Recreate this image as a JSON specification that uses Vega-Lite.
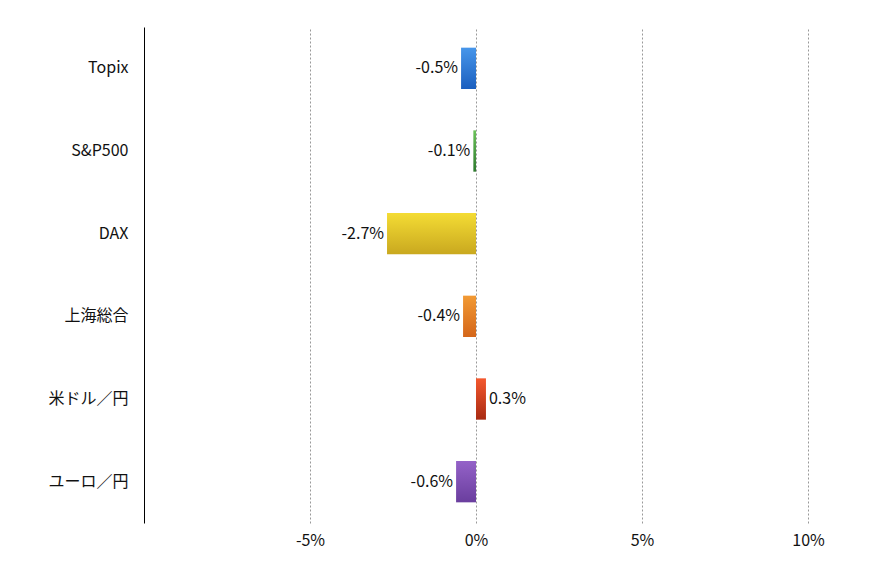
{
  "$schema": "https://vega.github.io/schema/vega-lite/v6.json",
  "width": 664,
  "height": 496,
  "autosize": {"type": "none"},
  "padding": {"left": 144, "top": 27, "right": 62, "bottom": 53},
  "background": "white",
  "config": {
    "font": "Noto Sans CJK JP",
    "view": {"stroke": null}
  },
  "data": {
    "values": [
      {"name": "Topix", "value": -0.45, "label": "-0.5%"},
      {"name": "S&P500", "value": -0.08, "label": "-0.1%"},
      {"name": "DAX", "value": -2.68, "label": "-2.7%"},
      {"name": "上海総合", "value": -0.39, "label": "-0.4%"},
      {"name": "米ドル／円", "value": 0.3, "label": "0.3%"},
      {"name": "ユーロ／円", "value": -0.6, "label": "-0.6%"}
    ]
  },
  "encoding": {
    "y": {
      "field": "name", "type": "nominal", "sort": null,
      "scale": {"paddingInner": 0.5, "paddingOuter": 0.25},
      "axis": {
        "title": null, "ticks": false, "domainColor": "#000000", "domainWidth": 1,
        "labelFontSize": 16, "labelColor": "#111111", "labelPadding": 16,
        "labelFont": "Noto Sans CJK JP"
      }
    },
    "x": {
      "field": "value", "type": "quantitative",
      "scale": {"domain": [-10, 10], "nice": false, "zero": false},
      "axis": {
        "title": null, "values": [-5, 0, 5, 10], "labelExpr": "datum.value + '%'",
        "domain": false, "ticks": false, "grid": true, "gridColor": "#999999",
        "gridDash": [2, 2], "gridWidth": 1, "labelFontSize": 16, "labelFlush": false,
        "labelColor": "#111111", "labelPadding": 9, "labelFont": "Noto Sans CJK JP"
      }
    }
  },
  "layer": [
    {
      "transform": [{"filter": "datum.name == 'Topix'"}],
      "mark": {"type": "bar", "color": {"gradient": "linear", "x1": 0, "y1": 0, "x2": 0, "y2": 1, "stops": [{"offset": 0, "color": "#4796ea"}, {"offset": 1, "color": "#1b5fbf"}]}},
      "encoding": {"x2": {"datum": 0}}
    },
    {
      "transform": [{"filter": "datum.name == 'S&P500'"}],
      "mark": {"type": "bar", "color": {"gradient": "linear", "x1": 0, "y1": 0, "x2": 0, "y2": 1, "stops": [{"offset": 0, "color": "#6cc25a"}, {"offset": 1, "color": "#2e7a2e"}]}},
      "encoding": {"x2": {"datum": 0}}
    },
    {
      "transform": [{"filter": "datum.name == 'DAX'"}],
      "mark": {"type": "bar", "color": {"gradient": "linear", "x1": 0, "y1": 0, "x2": 0, "y2": 1, "stops": [{"offset": 0, "color": "#f4dc34"}, {"offset": 1, "color": "#c9a81f"}]}},
      "encoding": {"x2": {"datum": 0}}
    },
    {
      "transform": [{"filter": "datum.name == '上海総合'"}],
      "mark": {"type": "bar", "color": {"gradient": "linear", "x1": 0, "y1": 0, "x2": 0, "y2": 1, "stops": [{"offset": 0, "color": "#f29a34"}, {"offset": 1, "color": "#d4661a"}]}},
      "encoding": {"x2": {"datum": 0}}
    },
    {
      "transform": [{"filter": "datum.name == '米ドル／円'"}],
      "mark": {"type": "bar", "color": {"gradient": "linear", "x1": 0, "y1": 0, "x2": 0, "y2": 1, "stops": [{"offset": 0, "color": "#f4582e"}, {"offset": 1, "color": "#a82a12"}]}},
      "encoding": {"x2": {"datum": 0}}
    },
    {
      "transform": [{"filter": "datum.name == 'ユーロ／円'"}],
      "mark": {"type": "bar", "color": {"gradient": "linear", "x1": 0, "y1": 0, "x2": 0, "y2": 1, "stops": [{"offset": 0, "color": "#9462c8"}, {"offset": 1, "color": "#6a3e9e"}]}},
      "encoding": {"x2": {"datum": 0}}
    },
    {
      "transform": [{"filter": "datum.value < 0"}],
      "mark": {"type": "text", "align": "right", "dx": -3, "fontSize": 16, "color": "#111111", "font": "Noto Sans CJK JP"},
      "encoding": {"text": {"field": "label"}}
    },
    {
      "transform": [{"filter": "datum.value >= 0"}],
      "mark": {"type": "text", "align": "left", "dx": 3, "fontSize": 16, "color": "#111111", "font": "Noto Sans CJK JP"},
      "encoding": {"text": {"field": "label"}}
    }
  ]
}
